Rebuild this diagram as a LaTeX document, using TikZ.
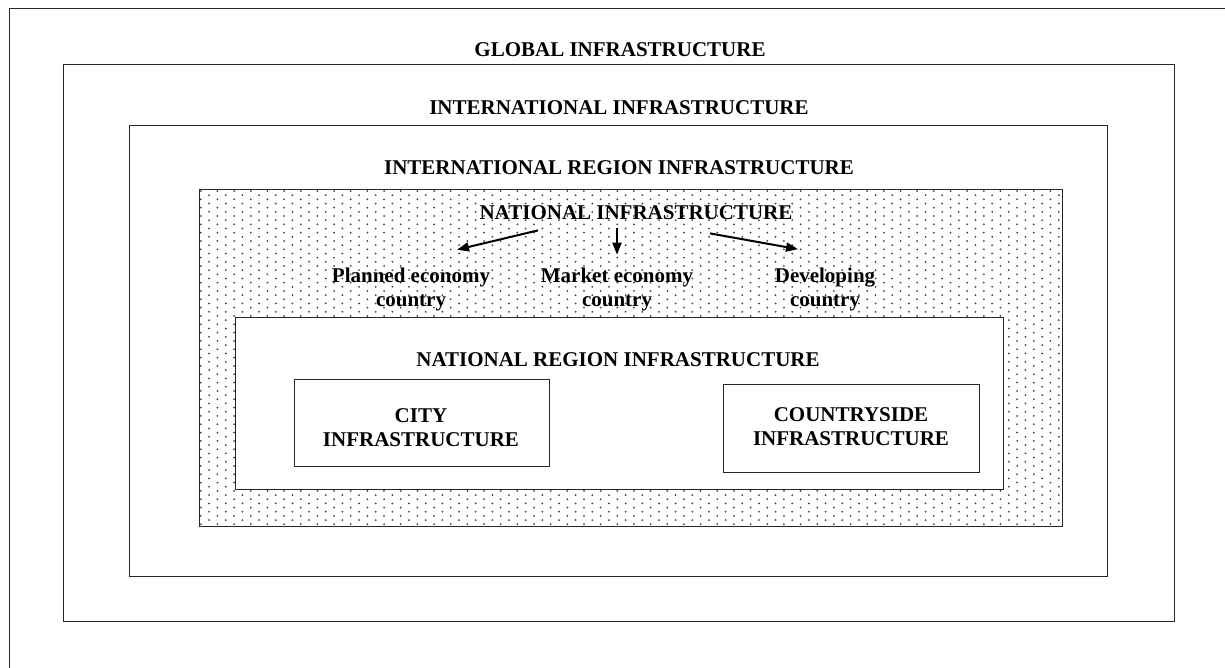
\documentclass[tikz,border=0pt]{standalone}
\usepackage{fontspec}
\setmainfont{Liberation Serif}
\usetikzlibrary{arrows.meta}
\begin{document}
\begin{tikzpicture}[x=1pt,y=-1pt,
  frame/.style={draw=black!85, line width=1pt},
  lbl/.style={font=\bfseries\fontsize{21}{24}\selectfont, inner sep=0pt, anchor=base},
  arr/.style={line width=2pt, -{Triangle[length=12pt,width=9pt]}},
  dotc/.style={fill=black!75}]
\useasboundingbox (0,0) rectangle (1225,668);
\fill[white] (0,0) rectangle (1225,668);
% outer frame (only left and top edges visible)
\draw[frame] (9,668) -- (9,8.3) -- (1225,8.3);
% global and international boxes
\draw[frame] (63.3,64.7) rectangle (1174,621);
\draw[frame] (129.3,126) rectangle (1107.7,576);
% dotted international region box
\begin{scope}
  \clip (199.3,189.5) rectangle (1062.3,526.7);
  \foreach \k in {0,...,103}{
    \pgfmathsetmacro\xx{200.8+8.33*\k}
    \pgfmathsetmacro\yo{ifthenelse(mod(\k,2)==1,195.2,191)}
    \foreach \j in {0,...,40}{
      \fill[dotc] (\xx,{\yo+8.33*\j}) circle[radius=1];
    }
  }
\end{scope}
\draw[frame] (199.3,189.5) rectangle (1062.3,526.7);
% national region box
\filldraw[frame, fill=white] (235,317.5) rectangle (1003.3,489);
% city and countryside boxes
\draw[frame] (294,379) rectangle (549,466);
\draw[frame] (723,384) rectangle (979,472);
% labels
\node[lbl] (glob) at (620,56.7) {GLOBAL INFRASTRUCTURE};
\node[lbl] (intl) at (619,114.5) {INTERNATIONAL INFRASTRUCTURE};
\node[lbl] (ireg) at (619,175) {INTERNATIONAL REGION INFRASTRUCTURE};
\node[lbl] (nat) at (636,220) {NATIONAL INFRASTRUCTURE};
\node[lbl] (pl) at (411,282.7) {\begin{tabular}[t]{@{}c@{}}Planned economy\\country\end{tabular}};
\node[lbl] (mk) at (617,282.7) {\begin{tabular}[t]{@{}c@{}}Market economy\\country\end{tabular}};
\node[lbl] (dv) at (825,282.2) {\begin{tabular}[t]{@{}c@{}}Developing\\country\end{tabular}};
\node[lbl] (nreg) at (618,366) {NATIONAL REGION INFRASTRUCTURE};
\node[lbl] (city) at (421,422) {\begin{tabular}[t]{@{}c@{}}CITY\\INFRASTRUCTURE\end{tabular}};
\node[lbl] (cside) at (851,421.7) {\begin{tabular}[t]{@{}c@{}}COUNTRYSIDE\\INFRASTRUCTURE\end{tabular}};
% arrows
\draw[arr] ([xshift=-98pt,yshift=-10pt]nat.south) -- ([xshift=46pt,yshift=16pt]pl.north);
\draw[arr] ([xshift=-19pt,yshift=-8pt]nat.south) -- ([yshift=11pt]mk.north);
\draw[arr] ([xshift=74pt,yshift=-13pt]nat.south) -- ([xshift=-27pt,yshift=16pt]dv.north);
\end{tikzpicture}
\end{document}
